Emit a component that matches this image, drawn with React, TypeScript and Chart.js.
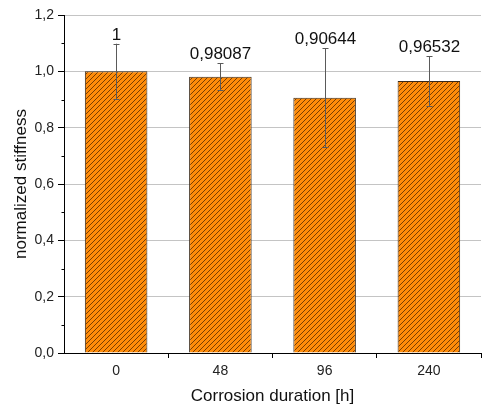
import React, { useEffect, useRef } from "react";
import { Chart, registerables } from "chart.js";

Chart.register(...registerables);

const categories = ["0", "48", "96", "240"];
const stiffness = [1, 0.98087, 0.90644, 0.96532];
const stiffnessError = [0.098, 0.047, 0.175, 0.088];
const valueLabels = ["1", "0,98087", "0,90644", "0,96532"];
const yTicks = [0, 0.2, 0.4, 0.6, 0.8, 1.0, 1.2];
const yMinorTicks = [0.1, 0.3, 0.5, 0.7, 0.9, 1.1];

function makeHatch(): CanvasPattern | string {
  const s = 5;
  const c = document.createElement("canvas");
  c.width = s;
  c.height = s;
  const g = c.getContext("2d");
  if (!g) return "#ff8c00";
  g.fillStyle = "#ff8c0a";
  g.fillRect(0, 0, s, s);
  g.strokeStyle = "#6a3500";
  g.lineWidth = 0.9;
  g.beginPath();
  g.moveTo(-1, s + 1);
  g.lineTo(s + 1, -1);
  g.moveTo(-1, 1);
  g.lineTo(1, -1);
  g.moveTo(s - 1, s + 1);
  g.lineTo(s + 1, s - 1);
  g.stroke();
  const p = g.createPattern(c, "repeat");
  return p || "#ff8c00";
}

const overlayPlugin = {
  id: "overlay",
  afterDatasetsDraw(chart: any) {
    const ctx = chart.ctx;
    const x = chart.scales.x;
    const y = chart.scales.y;
    ctx.save();
    ctx.strokeStyle = "#5a5a5a";
    ctx.lineWidth = 1;
    stiffness.forEach((v, i) => {
      const cx = Math.round(x.getPixelForValue(i)) + 0.5;
      const top = y.getPixelForValue(v + stiffnessError[i]);
      const bot = y.getPixelForValue(v - stiffnessError[i]);
      ctx.beginPath();
      ctx.moveTo(cx, top);
      ctx.lineTo(cx, bot);
      ctx.moveTo(cx - 3, Math.round(top) + 0.5);
      ctx.lineTo(cx + 3, Math.round(top) + 0.5);
      ctx.moveTo(cx - 3, Math.round(bot) + 0.5);
      ctx.lineTo(cx + 3, Math.round(bot) + 0.5);
      ctx.stroke();
      ctx.fillStyle = "#111";
      ctx.font = '17px "Liberation Sans", Arial, sans-serif';
      ctx.textAlign = "center";
      ctx.textBaseline = "alphabetic";
      ctx.fillText(valueLabels[i], cx, top - 4);
    });
    ctx.strokeStyle = "#000";
    const lx = Math.round(chart.chartArea.left) + 0.5;
    yMinorTicks.forEach((t) => {
      const py = Math.round(y.getPixelForValue(t)) + 0.5;
      ctx.beginPath();
      ctx.moveTo(lx - 3, py);
      ctx.lineTo(lx, py);
      ctx.stroke();
    });
    ctx.restore();
  },
};

export default function App() {
  const ref = useRef<HTMLCanvasElement | null>(null);
  useEffect(() => {
    if (!ref.current) return;
    const hatch = makeHatch();
    const chart = new Chart(ref.current, {
      type: "bar",
      data: {
        labels: categories,
        datasets: [
          {
            data: stiffness,
            backgroundColor: hatch as any,
            borderColor: "#3a2a1a",
            borderWidth: 1,
            categoryPercentage: 1,
            barPercentage: 0.6,
          },
        ],
      },
      plugins: [overlayPlugin],
      options: {
        animation: false,
        responsive: false,
        maintainAspectRatio: false,
        layout: { padding: { left: 0, top: 15, right: 1, bottom: 0 } },
        plugins: {
          legend: { display: false },
          tooltip: { enabled: false },
        },
        scales: {
          x: {
            type: "category",
            grid: {
              offset: true,
              drawOnChartArea: false,
              drawTicks: true,
              tickLength: 5,
              color: (ctx: any) =>
                ctx.index === 0 || ctx.index === categories.length ? "rgba(0,0,0,0)" : "#000",
            },
            border: { display: true, color: "#000", width: 1 },
            ticks: {
              color: "#222",
              font: { family: '"Liberation Sans", Arial, sans-serif', size: 14 },
              padding: 5,
            },
            title: {
              display: true,
              text: "Corrosion duration [h]",
              color: "#111",
              font: { family: '"Liberation Sans", Arial, sans-serif', size: 17 },
              padding: { top: 0, bottom: 0 },
            },
            afterFit: (s: any) => {
              s.height = 54;
            },
          },
          y: {
            min: 0,
            max: 1.2,
            afterBuildTicks: (s: any) => {
              s.ticks = yTicks.map((v) => ({ value: v }));
            },
            grid: {
              color: (ctx: any) => (ctx.tick && ctx.tick.value === 0 ? "#000" : "#c4c4c4"),
              tickColor: "#000",
              tickLength: 6,
              lineWidth: 1,
            },
            border: { display: true, color: "#000", width: 1 },
            ticks: {
              color: "#222",
              font: { family: '"Liberation Sans", Arial, sans-serif', size: 14 },
              padding: 4,
              callback: (v: any) => Number(v).toFixed(1).replace(".", ","),
            },
            title: {
              display: true,
              text: "normalized stiffness",
              color: "#111",
              font: { family: '"Liberation Sans", Arial, sans-serif', size: 17 },
              padding: { top: 11, bottom: 0 },
            },
            afterFit: (s: any) => {
              s.width = 64;
            },
          },
        },
      },
    });
    return () => chart.destroy();
  }, []);
  return (
    <div style={{ position: "absolute", left: 0, top: 0, width: 482, height: 407, background: "#fff" }}>
      <canvas ref={ref} width={482} height={407} style={{ width: 482, height: 407 }} />
    </div>
  );
}
